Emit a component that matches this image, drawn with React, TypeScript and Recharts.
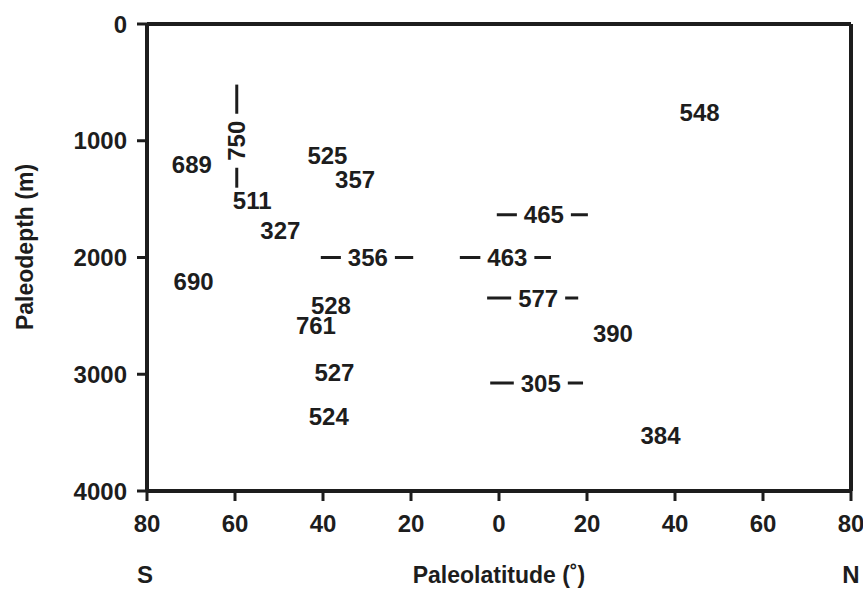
import { ErrorBar, Scatter, ScatterChart, XAxis, YAxis } from "recharts";

// site numbers placed at paleolatitude (deg, S negative) / paleodepth (m)
const plainSites = ["548", "689", "511", "327", "525", "357", "384", "390", "690", "528", "761", "527", "524"];
const plainLat = [45.6, -69.8, -56.1, -49.7, -39, -32.7, 36.7, 25.9, -69.4, -38.2, -41.6, -37.4, -38.7];
const plainDepth = [760, 1205, 1514, 1771, 1128, 1334, 3520, 2650, 2208, 2414, 2581, 2980, 3358];

// sites with a latitude range
const rangeSites = ["356", "463", "465", "577", "305"];
const rangeLat = [-29.8, 1.9, 10.2, 8.9, 9.5];
const rangeDepth = [2000, 2000, 1634, 2346, 3075];
const rangeLatMin = [-40.5, -8.9, -0.5, -2.7, -2];
const rangeLatMax = [-19.5, 11.8, 20.2, 18, 19.1];

// site with a depth range
const vSites = ["750"];
const vLat = [-59.6];
const vDepth = [1000];
const vDepthMin = [519];
const vDepthMax = [1402];

const latTicks = [-80, -60, -40, -20, 0, 20, 40, 60, 80];
const depthTicks = [0, 1000, 2000, 3000, 4000];

const INK = "#1d1d1d";
const FONT = "'Liberation Sans', Arial, Helvetica, sans-serif";

const plainData = plainSites.map((site, i) => ({ site, lat: plainLat[i], depth: plainDepth[i] }));
const rangeData = rangeSites.map((site, i) => ({
  site,
  lat: rangeLat[i],
  depth: rangeDepth[i],
  latErr: [rangeLat[i] - rangeLatMin[i], rangeLatMax[i] - rangeLat[i]],
}));
const vData = vSites.map((site, i) => ({
  site,
  lat: vLat[i],
  depth: vDepth[i],
  depthErr: [vDepth[i] - vDepthMin[i], vDepthMax[i] - vDepth[i]],
}));

const labelText = {
  fontFamily: FONT,
  fontWeight: "bold" as const,
  fontSize: 24,
  fill: INK,
};

function SiteLabel(props: any) {
  const { cx, cy, payload } = props;
  if (cx == null || cy == null) return null;
  return (
    <text x={cx} y={cy} dy="0.36em" textAnchor="middle" {...labelText}>
      {payload.site}
    </text>
  );
}

function RangeLabel(props: any) {
  const { cx, cy, payload } = props;
  if (cx == null || cy == null) return null;
  return (
    <g>
      <rect x={cx - 27} y={cy - 6} width={54} height={12} fill="#fff" />
      <text x={cx} y={cy} dy="0.36em" textAnchor="middle" {...labelText}>
        {payload.site}
      </text>
    </g>
  );
}

function VerticalLabel(props: any) {
  const { cx, cy, payload } = props;
  if (cx == null || cy == null) return null;
  return (
    <g>
      <rect x={cx - 6} y={cy - 27} width={12} height={54} fill="#fff" />
      <text
        x={cx}
        y={cy}
        dy="0.36em"
        textAnchor="middle"
        transform={`rotate(-90 ${cx} ${cy})`}
        {...labelText}
      >
        {payload.site}
      </text>
    </g>
  );
}

function XTitle(props: any) {
  const vb = props.viewBox || { x: 147, y: 491, width: 704, height: 99 };
  const y = vb.y + 92;
  const t = { fontFamily: FONT, fontWeight: "bold" as const, fontSize: 23, fill: INK };
  return (
    <g>
      <text x={vb.x - 2} y={y} textAnchor="middle" {...t} fontSize={24}>
        S
      </text>
      <text x={vb.x + vb.width / 2} y={y} textAnchor="middle" {...t}>
        Paleolatitude (˚)
      </text>
      <text x={vb.x + vb.width} y={y} textAnchor="middle" {...t} fontSize={24}>
        N
      </text>
    </g>
  );
}

function YTitle(props: any) {
  const vb = props.viewBox || { x: 0, y: 24, width: 147, height: 467 };
  const x = vb.x + 25;
  const y = vb.y + 223;
  return (
    <text
      x={x}
      y={y}
      dy="0.36em"
      textAnchor="middle"
      transform={`rotate(-90 ${x} ${y})`}
      fontFamily={FONT}
      fontWeight="bold"
      fontSize={23}
      fill={INK}
    >
      Paleodepth (m)
    </text>
  );
}

const tickStyle = { fontSize: 24, fontWeight: "bold", fill: INK, fontFamily: FONT };

export default function App() {
  return (
    <div style={{ position: "absolute", left: 0, top: 0, background: "#fff" }}>
      <ScatterChart width={863} height={590} margin={{ top: 0, right: 0, bottom: 0, left: 0 }}>
        <XAxis
          xAxisId="bottom"
          type="number"
          dataKey="lat"
          domain={[-80, 80]}
          ticks={latTicks}
          interval={0}
          tickFormatter={(v: number) => String(Math.abs(v))}
          height={99}
          axisLine={{ stroke: INK, strokeWidth: 4 }}
          tickLine={{ stroke: INK, strokeWidth: 3 }}
          tickSize={10}
          tickMargin={14}
          tick={tickStyle}
          label={{ content: XTitle }}
        />
        <XAxis
          xAxisId="top"
          orientation="top"
          type="number"
          dataKey="lat"
          domain={[-80, 80]}
          ticks={latTicks}
          interval={0}
          height={24}
          axisLine={{ stroke: INK, strokeWidth: 4 }}
          tickLine={{ stroke: INK, strokeWidth: 3 }}
          tickSize={9}
          tick={false}
        />
        <YAxis
          yAxisId="left"
          type="number"
          dataKey="depth"
          domain={[0, 4000]}
          reversed
          ticks={depthTicks}
          interval={0}
          width={147}
          axisLine={{ stroke: INK, strokeWidth: 4 }}
          tickLine={{ stroke: INK, strokeWidth: 3 }}
          tickSize={10}
          tickMargin={10}
          tick={tickStyle}
          label={{ content: YTitle }}
        />
        <YAxis
          yAxisId="right"
          orientation="right"
          type="number"
          dataKey="depth"
          domain={[0, 4000]}
          reversed
          ticks={depthTicks}
          interval={0}
          width={12}
          axisLine={{ stroke: INK, strokeWidth: 4 }}
          tickLine={{ stroke: INK, strokeWidth: 3 }}
          tickSize={8}
          tick={false}
        />
        <Scatter
          data={plainData}
          xAxisId="bottom"
          yAxisId="left"
          shape={(p: any) => <SiteLabel {...p} />}
          isAnimationActive={false}
        />
        <Scatter
          data={rangeData}
          xAxisId="bottom"
          yAxisId="left"
          shape={(p: any) => <RangeLabel {...p} />}
          isAnimationActive={false}
        >
          <ErrorBar dataKey="latErr" direction="x" width={0} stroke={INK} strokeWidth={3} isAnimationActive={false} />
        </Scatter>
        <Scatter
          data={vData}
          xAxisId="bottom"
          yAxisId="left"
          shape={(p: any) => <VerticalLabel {...p} />}
          isAnimationActive={false}
        >
          <ErrorBar dataKey="depthErr" direction="y" width={0} stroke={INK} strokeWidth={3} isAnimationActive={false} />
        </Scatter>
      </ScatterChart>
    </div>
  );
}
